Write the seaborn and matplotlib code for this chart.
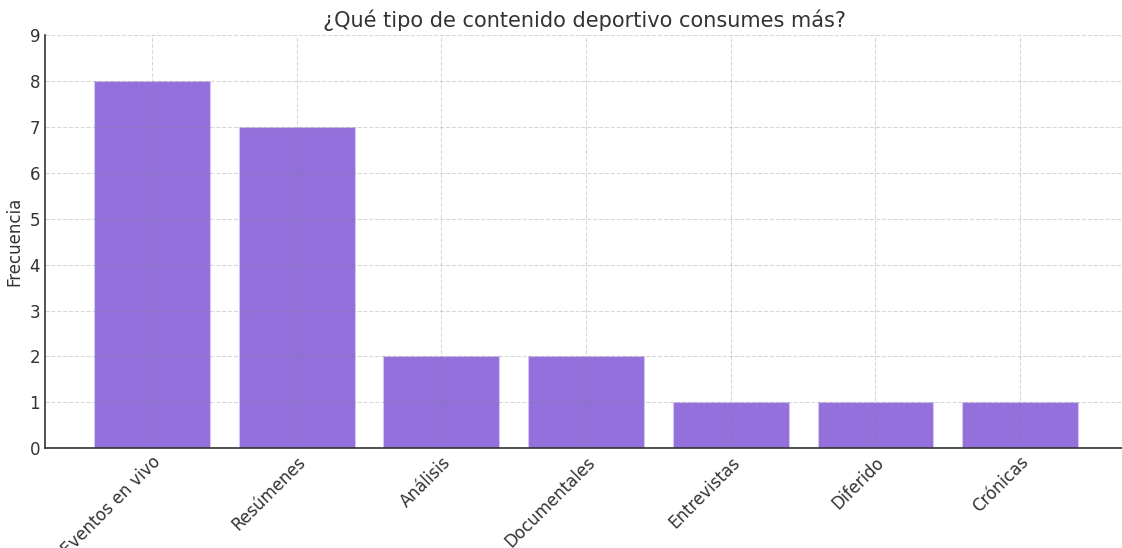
"""Bar chart: tipo de contenido deportivo más consumido."""
import matplotlib
matplotlib.use("Agg")
import matplotlib.pyplot as plt
import seaborn as sns
import pandas as pd

categorias = ["Eventos en vivo", "Resúmenes", "Análisis", "Documentales",
              "Entrevistas", "Diferido", "Crónicas"]
frecuencias = [8, 7, 2, 2, 1, 1, 1]
y_ticks = list(range(0, 10))

df = pd.DataFrame({"Categoria": categorias, "Frecuencia": frecuencias})

sns.set_style("white")
plt.rcParams["font.family"] = ["DejaVu Sans"]
plt.rcParams["text.color"] = "#333333"
plt.rcParams["axes.labelcolor"] = "#333333"
plt.rcParams["xtick.color"] = "#333333"
plt.rcParams["ytick.color"] = "#333333"

fig = plt.figure(figsize=(11.22, 5.48), dpi=100)
ax = fig.add_axes([0.040, 0.182, 0.962, 0.754])

sns.barplot(data=df, x="Categoria", y="Frecuencia", color="#9370DB",
            saturation=1, width=0.8, edgecolor="#d4c8f2", linewidth=0.8,
            ax=ax)

ax.set_xlim(-0.74, 6.72)
ax.set_ylim(0, 9)
ax.set_yticks(y_ticks)
ax.set_axisbelow(False)
ax.grid(True, linestyle="--", color="#808080", alpha=0.3, linewidth=0.8)

ax.tick_params(direction="in", length=4, labelsize=12, width=1)
plt.setp(ax.get_xticklabels(), rotation=45, ha="right", rotation_mode="anchor")
ax.set_xlabel("")
ax.set_ylabel("Frecuencia", fontsize=12)
ax.set_title("¿Qué tipo de contenido deportivo consumes más?", fontsize=15, pad=6)

for side in ["top", "right"]:
    ax.spines[side].set_visible(False)
for side in ["left", "bottom"]:
    ax.spines[side].set_color("#333333")
    ax.spines[side].set_linewidth(1.2)
    ax.spines[side].set_zorder(3)

fig.savefig("out.png", dpi=100)
